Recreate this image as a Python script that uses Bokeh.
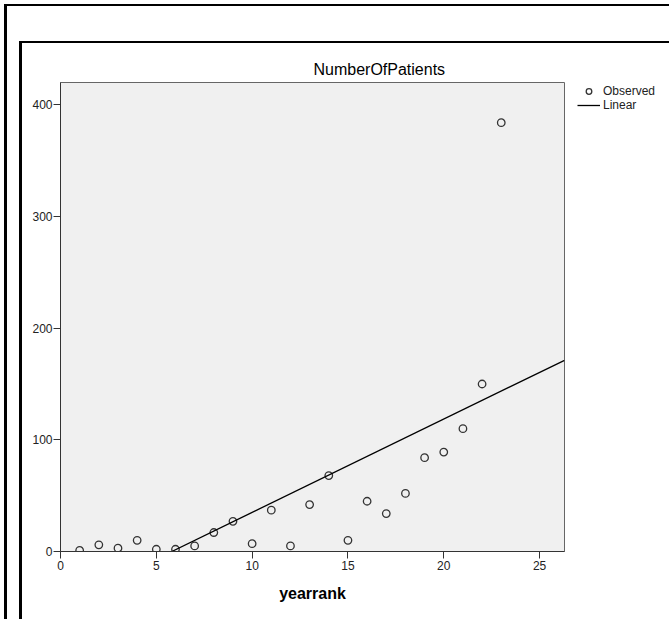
import numpy as np
from bokeh.plotting import figure
from bokeh.models import Range1d, Legend, LegendItem, FixedTicker
from bokeh.embed import file_html
from bokeh.resources import INLINE

# ---- data ----
yearrank = list(range(1, 24))
patients = [1, 6, 3, 10, 2, 2, 5, 17, 27, 7, 37, 5, 42, 68, 10, 45, 34, 52, 84, 89, 110, 150, 384]
x_ticks = [0, 5, 10, 15, 20, 25]
y_ticks = [0, 100, 200, 300, 400]
X_MAX = 26.3
Y_MAX = 420

# linear fit (OLS) computed from the data
slope, intercept = np.polyfit(yearrank, patients, 1)
x_start = max(-intercept / slope, 0.0)
fit_x = [x_start, X_MAX]
fit_y = [slope * v + intercept for v in fit_x]

p = figure(frame_width=504, frame_height=469, output_backend="svg", toolbar_location=None,
           x_range=Range1d(0, X_MAX), y_range=Range1d(0, Y_MAX),
           min_border_left=60, min_border_right=105, min_border_top=82, min_border_bottom=68)

p.background_fill_color = "#f0f0f0"
p.border_fill_color = None
p.outline_line_color = "#666666"
p.outline_line_width = 1
p.xgrid.visible = False
p.ygrid.visible = False

# decorative outer/inner chart frames drawn with CSS on the host element
p.styles = {
    "background-color": "white",
    "background-image": ("linear-gradient(#000,#000), linear-gradient(#000,#000), "
                         "linear-gradient(#000,#000), linear-gradient(#000,#000)"),
    "background-size": "3px 100%, 100% 2px, 3px 100%, 100% 2px",
    "background-position": "4px 4px, 4px 4px, 19px 41px, 19px 41px",
    "background-repeat": "no-repeat",
}

p.title.text = "NumberOfPatients"
p.title.text_font = "Liberation Sans"
p.title.text_font_size = "16px"
p.title.text_font_style = "normal"
p.title.text_color = "black"
p.title.align = "left"
p.title.offset = 253
p.title.standoff = 10

for ax in (p.xaxis[0], p.yaxis[0]):
    ax.axis_line_color = "#333333"
    ax.major_tick_line_color = "#333333"
    ax.major_tick_out = 7
    ax.major_tick_in = 0
    ax.minor_tick_out = 0
    ax.minor_tick_in = 0
    ax.major_label_text_font = "Liberation Sans"
    ax.major_label_text_font_size = "12px"
    ax.major_label_text_color = "#222222"

p.xaxis.ticker = FixedTicker(ticks=x_ticks)
p.yaxis.ticker = FixedTicker(ticks=y_ticks)
p.xaxis.major_label_standoff = 2
p.yaxis.major_label_standoff = 1
p.xaxis.axis_label = "yearrank"
p.xaxis.axis_label_text_font = "Liberation Sans"
p.xaxis.axis_label_text_font_style = "bold"
p.xaxis.axis_label_text_font_size = "16px"
p.xaxis.axis_label_text_color = "black"
p.xaxis.axis_label_standoff = 12

obs = p.scatter(yearrank, patients, marker="circle", size=7.5, fill_alpha=0,
                line_color="#333333", line_width=1.3)
lin = p.line(fit_x, fit_y, line_color="black", line_width=1.3)

legend = Legend(items=[LegendItem(label="Observed", renderers=[obs]),
                       LegendItem(label="Linear", renderers=[lin])],
                location=(13, 439))
legend.padding = 0
legend.margin = 0
legend.spacing = -3
legend.label_height = 12
legend.glyph_height = 14
legend.glyph_width = 23
legend.label_standoff = 3
legend.label_text_font = "Liberation Sans"
legend.label_text_font_size = "12px"
legend.label_text_color = "#222222"
legend.border_line_alpha = 0
legend.background_fill_alpha = 0
p.add_layout(legend, "right")

open("out.html", "w").write(file_html(p, INLINE))
